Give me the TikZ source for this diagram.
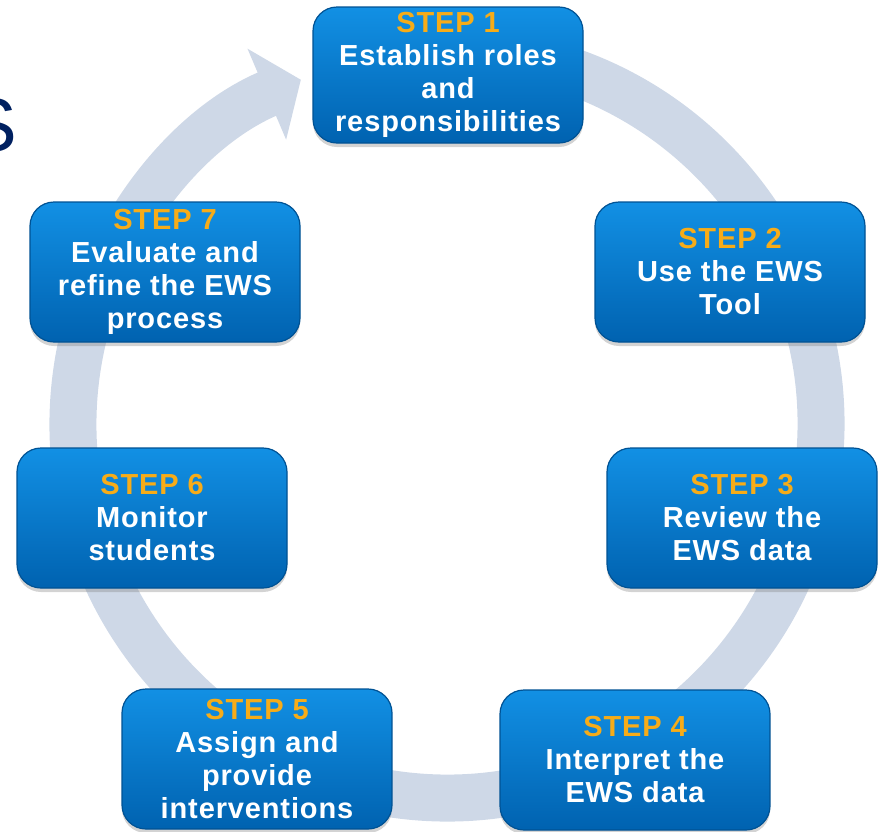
\documentclass[tikz,border=0pt]{standalone}
\usepackage{fontspec}
\setmainfont{Liberation Sans}
\newfontfamily\stepfont{Liberation Sans}[LetterSpace=3]
\usetikzlibrary{arrows.meta, shadows}

\definecolor{ringgray}{RGB}{206,216,231}
\definecolor{steptop}{RGB}{18,144,228}
\definecolor{stepbottom}{RGB}{0,98,176}
\definecolor{stepedge}{RGB}{0,82,148}
\definecolor{stepgold}{RGB}{247,172,24}
\definecolor{titlenavy}{RGB}{0,32,96}

\tikzset{
  stepbox/.style={rounded corners=12pt, minimum width=135pt, minimum height=70pt,
    inner sep=0pt, align=center, top color=steptop, bottom color=stepbottom,
    draw=stepedge, line width=0.6pt,
    drop shadow={opacity=0.35, shadow xshift=0pt, shadow yshift=-2pt},
    text=white, font=\stepfont\bfseries\fontsize{14.5}{16.5}\selectfont},
}
\newcommand{\steplabel}[1]{\textcolor{stepgold}{STEP #1}}

\begin{document}
\begin{tikzpicture}[x=0.5pt, y=0.5pt]
    \useasboundingbox (0,0) rectangle (879,-831);

    % Title letter running off the left edge
    \node[font=\fontsize{38}{38}\selectfont, text=titlenavy, anchor=east, inner sep=0pt] (title) at (18,-125) {S};

    % Cycle ring with arrow head
    \coordinate (ctr) at (447,-424);
    \draw[ringgray, line width=23.5pt, -{Triangle[length=18.5pt, width=48.5pt]}]
        (ctr) ++(80:374) arc[start angle=80, end angle=-247, radius=187pt];

    % Steps
    \node[stepbox, minimum height=68pt] (s1) at (448,-75) {\steplabel{1}\\Establish roles\\and\\responsibilities};
    \node[stepbox] (s2) at (730,-272) {\steplabel{2}\\Use the EWS\\Tool};
    \node[stepbox] (s3) at (742,-518) {\steplabel{3}\\Review the\\EWS data};
    \node[stepbox] (s4) at (635,-760) {\steplabel{4}\\Interpret the\\EWS data};
    \node[stepbox] (s5) at (257,-759) {\steplabel{5}\\Assign and\\provide\\interventions};
    \node[stepbox] (s6) at (152,-518) {\steplabel{6}\\Monitor\\students};
    \node[stepbox] (s7) at (165,-272) {\steplabel{7}\\Evaluate and\\refine the EWS\\process};
\end{tikzpicture}
\end{document}
